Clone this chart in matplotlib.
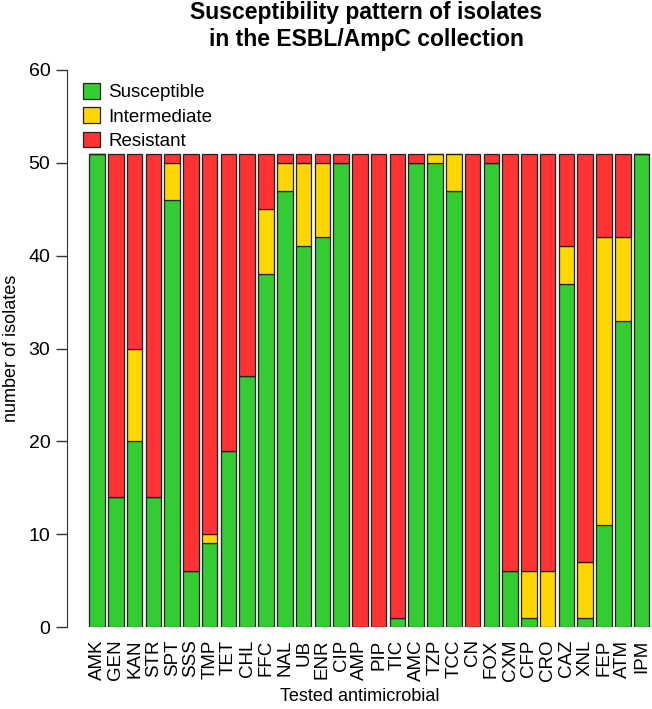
import matplotlib
matplotlib.use("Agg")
import matplotlib.pyplot as plt
import numpy as np
from matplotlib.patches import Patch

plt.rcParams['font.family'] = ['Liberation Sans', 'DejaVu Sans']

drugs = ["AMK", "GEN", "KAN", "STR", "SPT", "SSS", "TMP", "TET", "CHL", "FFC",
         "NAL", "UB", "ENR", "CIP", "AMP", "PIP", "TIC", "AMC", "TZP", "TCC",
         "CN", "FOX", "CXM", "CFP", "CRO", "CAZ", "XNL", "FEP", "ATM", "IPM"]
susceptible = [51, 14, 20, 14, 46, 6, 9, 19, 27, 38,
               47, 41, 42, 50, 0, 0, 1, 50, 50, 47,
               0, 50, 6, 1, 0, 37, 1, 11, 33, 51]
intermediate = [0, 0, 10, 0, 4, 0, 1, 0, 0, 7,
                3, 9, 8, 0, 0, 0, 0, 0, 1, 4,
                0, 0, 0, 5, 6, 4, 6, 31, 9, 0]
resistant = [0, 37, 21, 37, 1, 45, 41, 32, 24, 6,
             1, 1, 1, 1, 51, 51, 50, 1, 0, 0,
             51, 1, 45, 45, 45, 10, 44, 9, 9, 0]

c_s, c_i, c_r = "#33CC33", "#FFD700", "#FF3333"

W, H = 652, 709
fig = plt.figure(figsize=(W / 100, H / 100), dpi=100)
ax = fig.add_axes([67 / W, 1 - 627 / H, (W - 67) / W, (627 - 70) / H])

x = np.arange(len(drugs))
s = np.array(susceptible)
i = np.array(intermediate)
r = np.array(resistant)
kw = dict(width=0.83, edgecolor="#222222", linewidth=0.9)
ax.bar(x, s, color=c_s, **kw)
ax.bar(x, i, bottom=s, color=c_i, **kw)
ax.bar(x, r, bottom=s + i, color=c_r, **kw)

ax.set_xlim(-1.6, 29.56)
ax.set_ylim(0, 60)
for sp in ["top", "right", "bottom"]:
    ax.spines[sp].set_visible(False)
ax.spines["left"].set_bounds(0, 60)
ax.spines["left"].set_color("#333333")
ax.set_yticks(range(0, 61, 10))
ax.tick_params(axis="y", length=8, width=1, color="#333333", labelsize=14, pad=4)
ax.set_xticks(x)
ax.set_xticklabels(drugs, rotation=90, fontsize=13.5)
ax.tick_params(axis="x", length=0, pad=9)

ax.set_xlabel("Tested antimicrobial", fontsize=13, labelpad=5)
ax.set_ylabel("number of isolates", fontsize=13, labelpad=6)

fig.text(366 / W, 1 - 26 / H, "Susceptibility pattern of isolates\nin the ESBL/AmpC collection",
         ha="center", va="center", fontsize=16.5, fontweight="bold", linespacing=1.2)

handles = [Patch(facecolor=c, edgecolor="#222222", linewidth=0.9) for c in (c_s, c_i, c_r)]
leg = ax.legend(handles, ["Susceptible", "Intermediate", "Resistant"],
                loc="upper left", bbox_to_anchor=(83 / W, 1 - 83 / H),
                bbox_transform=fig.transFigure, frameon=False, fontsize=13.5,
                handlelength=0.9, handleheight=0.9, handletextpad=0.45,
                labelspacing=0.32, borderpad=0, borderaxespad=0)

fig.savefig("out.png", dpi=100)
